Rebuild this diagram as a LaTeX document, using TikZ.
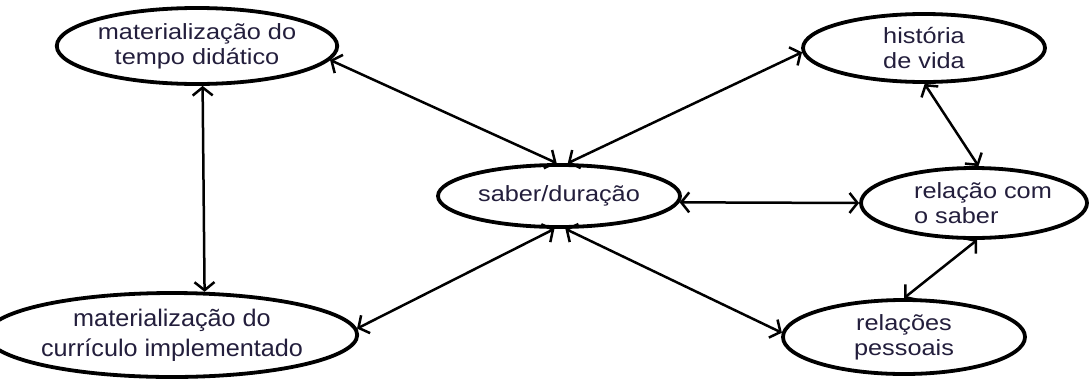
\documentclass[tikz,border=0pt]{standalone}
\usepackage{fontspec}
\usetikzlibrary{shapes.geometric,arrows.meta}
\newfontfamily\labelfont[FakeStretch=1.15]{Liberation Sans}
\newfontfamily\biglabelfont[FakeStretch=1.05]{Liberation Sans}
\definecolor{inkline}{RGB}{0,0,0}
\definecolor{inktext}{RGB}{35,30,60}
\begin{document}
\begin{tikzpicture}[x=1pt,y=-1pt,
  concept/.style={ellipse,draw=inkline,line width=3.8pt,inner sep=0pt,
    fill=white,text=inktext,align=center,
    font=\labelfont\fontsize{22}{25}\selectfont},
  link/.style={line width=2.5pt,draw=inkline,
    {Straight Barb[length=8pt,width=20pt]}-{Straight Barb[length=8pt,width=20pt]}}]
\useasboundingbox (0,0) rectangle (1089,378);
\fill[white] (0,0) rectangle (1089,378);

% concept ellipses
\node[concept,minimum width=270pt,minimum height=76pt] (tempo) at (197,46)
  {materialização do\\tempo didático};
\node[concept,minimum width=322pt,minimum height=84pt,
  font=\biglabelfont\fontsize{24}{30}\selectfont] (curriculo) at (172,335)
  {materialização do\\currículo implementado};
\node[concept,minimum width=242pt,minimum height=62pt] (saber) at (559,196)
  {saber/duração};
\node[concept,minimum width=242pt,minimum height=68pt] (historia) at (924,48)
  {história\\de vida};
\node[concept,minimum width=226pt,minimum height=70pt,align=left] (relacao) at (974,203)
  {\hspace*{18pt}relação com\\\hspace*{18pt}o saber};
\node[concept,minimum width=242pt,minimum height=74pt] (pessoais) at (904,337)
  {relações\\pessoais};

% two-way connections
\draw[link] (saber.94) -- (tempo.-6);
\draw[link] (saber.75) -- (historia.182);
\draw[link] (saber.-3.4) -- (relacao.180);
\draw[link] (saber.262) -- (curriculo.2);
\draw[link] (saber.-79) -- (pessoais.178);
\draw[link] (tempo.-82.5) -- (curriculo.53);
\draw[link] (historia.-89) -- (relacao.83.5);
\draw[link] (relacao.-85) -- (pessoais.90);
\end{tikzpicture}
\end{document}
